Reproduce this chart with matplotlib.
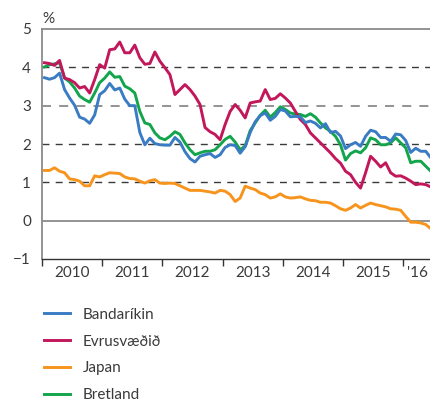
import numpy as np
import matplotlib
matplotlib.use("Agg")
from matplotlib import pyplot as plt

plt.rcParams['font.family'] = ['Lato', 'DejaVu Sans']

# monthly values, Jan 2010 - Jun 2016
bandarikin = [3.73, 3.69, 3.73, 3.85, 3.42, 3.20, 3.01, 2.70, 2.65, 2.54, 2.76, 3.29,
              3.39, 3.58, 3.41, 3.46, 3.17, 3.00, 3.00, 2.30, 1.98, 2.15, 2.01, 1.98,
              1.97, 1.97, 2.17, 2.05, 1.80, 1.62, 1.53, 1.68, 1.72, 1.75, 1.65, 1.72,
              1.91, 1.98, 1.96, 1.76, 1.93, 2.30, 2.58, 2.74, 2.81, 2.62, 2.72, 2.90,
              2.86, 2.71, 2.72, 2.71, 2.56, 2.60, 2.54, 2.42, 2.53, 2.30, 2.33, 2.21,
              1.88, 1.98, 2.04, 1.94, 2.20, 2.36, 2.32, 2.17, 2.17, 2.07, 2.26, 2.24,
              2.09, 1.78, 1.89, 1.81, 1.81, 1.64]
evrusvaedid = [4.12, 4.10, 4.05, 4.18, 3.72, 3.68, 3.60, 3.46, 3.50, 3.33, 3.68, 4.07,
               3.98, 4.46, 4.48, 4.66, 4.38, 4.38, 4.58, 4.25, 4.08, 4.10, 4.40, 4.16,
               3.99, 3.81, 3.29, 3.42, 3.55, 3.42, 3.25, 3.03, 2.43, 2.32, 2.25, 2.11,
               2.51, 2.85, 3.03, 2.88, 2.68, 3.07, 3.10, 3.12, 3.42, 3.16, 3.19, 3.31,
               3.20, 3.07, 2.85, 2.64, 2.51, 2.29, 2.16, 2.03, 1.90, 1.77, 1.62, 1.50,
               1.29, 1.20, 1.00, 0.85, 1.25, 1.68, 1.55, 1.40, 1.51, 1.25, 1.16, 1.17,
               1.11, 1.03, 0.94, 0.96, 0.94, 0.88]
japan = [1.31, 1.31, 1.38, 1.29, 1.25, 1.09, 1.07, 1.03, 0.91, 0.91, 1.17, 1.14,
         1.20, 1.25, 1.24, 1.23, 1.14, 1.10, 1.09, 1.03, 0.98, 1.04, 1.07, 0.98,
         0.97, 0.98, 0.97, 0.91, 0.85, 0.79, 0.79, 0.79, 0.77, 0.75, 0.72, 0.79,
         0.77, 0.68, 0.50, 0.59, 0.90, 0.85, 0.81, 0.72, 0.68, 0.59, 0.62, 0.70,
         0.62, 0.59, 0.60, 0.62, 0.57, 0.53, 0.52, 0.48, 0.48, 0.46, 0.39, 0.31,
         0.27, 0.33, 0.42, 0.33, 0.40, 0.46, 0.42, 0.39, 0.36, 0.31, 0.30, 0.27,
         0.11, -0.04, -0.04, -0.06, -0.10, -0.21]
bretland = [4.01, 4.07, 4.09, 4.12, 3.72, 3.62, 3.46, 3.25, 3.16, 3.09, 3.33, 3.60,
            3.72, 3.88, 3.74, 3.76, 3.51, 3.44, 3.33, 2.85, 2.55, 2.51, 2.29, 2.16,
            2.11, 2.20, 2.32, 2.25, 2.03, 1.85, 1.72, 1.77, 1.81, 1.81, 1.85, 1.98,
            2.12, 2.20, 2.05, 1.85, 1.95, 2.35, 2.55, 2.75, 2.88, 2.70, 2.82, 2.97,
            2.90, 2.81, 2.78, 2.77, 2.72, 2.79, 2.70, 2.55, 2.42, 2.33, 2.20, 1.98,
            1.58, 1.75, 1.82, 1.77, 1.90, 2.16, 2.11, 1.98, 1.98, 2.03, 2.16, 2.03,
            1.90, 1.51, 1.55, 1.55, 1.42, 1.29]

years = [2010, 2011, 2012, 2013, 2014, 2015, 2016]
year_labels = ['2010', '2011', '2012', '2013', '2014', '2015', "'16"]

x = 2010 + (np.arange(len(bandarikin)) + 0.5) / 12.0

fig = plt.figure(figsize=(4.30, 4.01), dpi=100)
ax = fig.add_axes([42/430, 1 - 259/401, 388/430, 230/401])

dash = (0, (5, 4.5))
for v in [1, 2, 4]:
    ax.axhline(v, color='#3a3a3a', lw=1.0, ls=dash, zorder=1)
ax.axhline(3, color='#8a8a8a', lw=1.3, ls=dash, zorder=1)
ax.axhline(0, color='#8a8a8a', lw=1.3, zorder=1)

l_green, = ax.plot(x, bretland, color='#12a54b', lw=2.1, zorder=3)
l_orange, = ax.plot(x, japan, color='#f7941d', lw=2.1, zorder=3)
l_red, = ax.plot(x, evrusvaedid, color='#c2175b', lw=2.1, zorder=4)
l_blue, = ax.plot(x, bandarikin, color='#3a7cc4', lw=2.1, zorder=5)

ax.set_xlim(2010, 2010 + 388/60.2)
ax.set_ylim(-1, 5)

ax.spines['right'].set_visible(False)
ax.spines['top'].set_color('#8a8a8a')
ax.spines['top'].set_linewidth(1.3)
ax.spines['left'].set_color('#8a8a8a')
ax.spines['left'].set_linewidth(1.3)
ax.spines['bottom'].set_color('#333333')
ax.spines['bottom'].set_linewidth(1.0)

ax.set_yticks([-1, 0, 1, 2, 3, 4, 5])
ax.tick_params(axis='y', length=0, pad=8, labelsize=11, labelcolor='#3a3a3a')

ax.set_xticks(years)
ax.set_xticklabels([])
ax.tick_params(axis='x', which='major', direction='out', length=5, width=1,
               color='#333333')
mids = [y + 0.5 for y in years[:-1]] + [2016.23]
ax.set_xticks(mids, minor=True)
ax.set_xticklabels(year_labels, minor=True)
ax.tick_params(axis='x', which='minor', length=0, pad=5, labelsize=11,
               labelcolor='#3a3a3a')

fig.text(42/430, 1 - 19/401, '%', ha='left', va='center', fontsize=11,
         color='#3a3a3a')

fig.legend([l_blue, l_red, l_orange, l_green],
           ['Bandaríkin', 'Evrusvæðið', 'Japan', 'Bretland'],
           loc='upper left', bbox_to_anchor=(30/430, 1 - 294/401),
           frameon=False, fontsize=11, handlelength=1.7, handletextpad=0.85,
           labelspacing=0.84, labelcolor='#3a3a3a')

fig.savefig('out.png', dpi=100)
